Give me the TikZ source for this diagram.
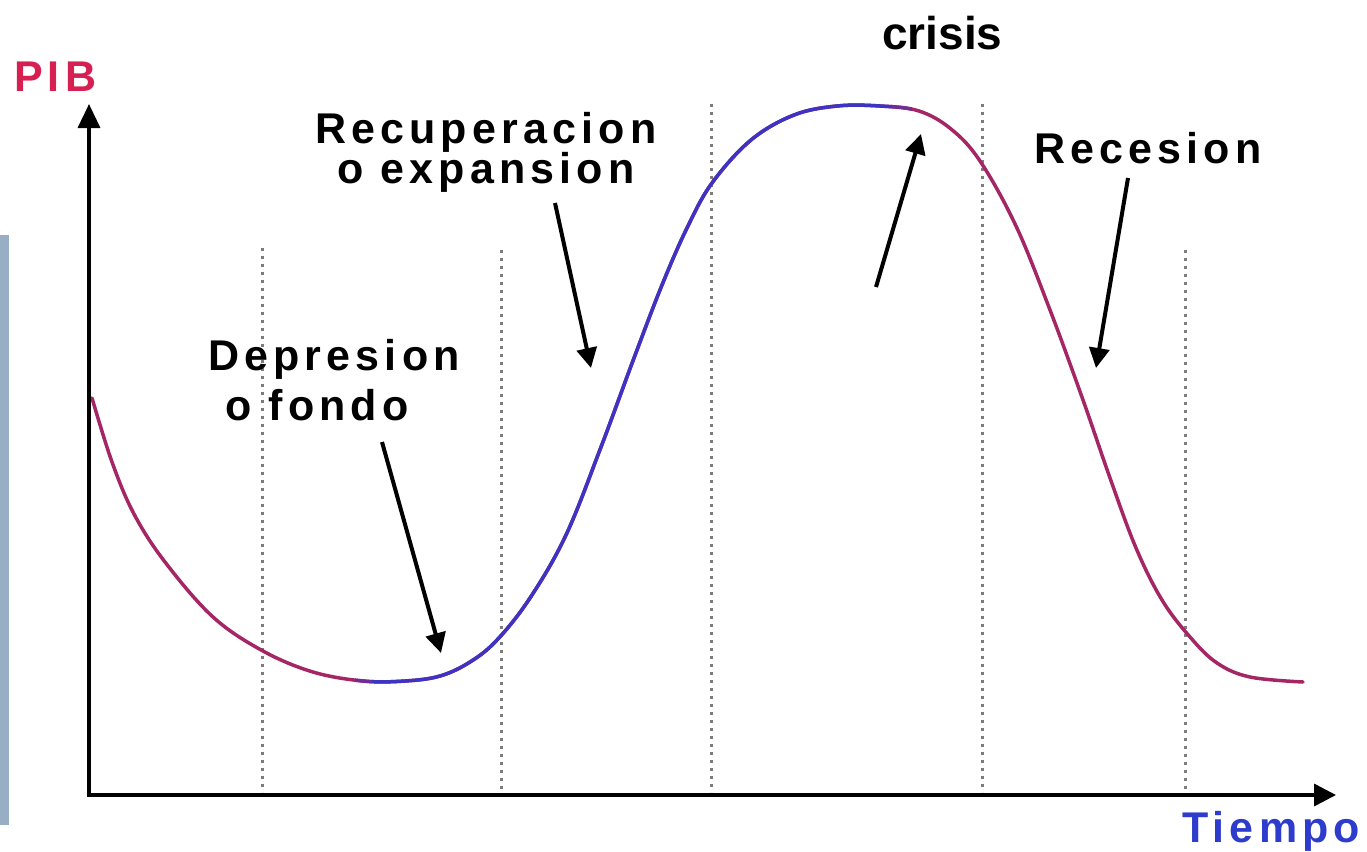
\documentclass[tikz,border=0pt]{standalone}
\usepackage{fontspec}
\setmainfont{Liberation Sans}
\newfontfamily\lblfont[LetterSpace=12,BoldFont={Liberation Sans Bold}]{Liberation Sans}
\newfontfamily\plainbold{Liberation Sans Bold}
\usetikzlibrary{arrows.meta}
\definecolor{pibred}{RGB}{214,32,82}
\definecolor{tblue}{RGB}{45,60,205}
\definecolor{curvered}{RGB}{165,38,100}
\definecolor{curveblue}{RGB}{62,52,196}
\definecolor{curvemix}{RGB}{112,45,150}
\definecolor{barcol}{RGB}{152,174,197}
\definecolor{gridgray}{RGB}{125,125,125}
\tikzset{
  lbl/.style={font=\lblfont\bfseries\fontsize{43}{50}\selectfont, inner sep=0pt, anchor=base west, text=black},
  crisislbl/.style={font=\plainbold\fontsize{46}{54}\selectfont, inner sep=0pt, anchor=base west, text=black},
  axisline/.style={line width=3.5pt, black, line join=miter, {Triangle[length=24pt,width=22pt]}-{Triangle[length=22pt,width=22pt]}},
  vgrid/.style={line width=3pt, gridgray, dash pattern=on 3pt off 5pt},
  pointer/.style={line width=4pt, black, -{Triangle[length=20pt,width=20pt]}},
  curvestyle/.style={line width=3.5pt, line cap=round, line join=round}
}
\newcommand{\cycpath}{plot[smooth, tension=0.6] coordinates {
 (92,398) (112,462) (134,514) (165,562) (213,617) (263,651) (313,672)
 (363,681) (405,681) (440,676) (470,662) (497,640) (530,598) (566,535)
 (601,447) (634,358) (662,285) (687,228) (712,183) (751,140) (794,115)
 (837,106) (880,106) (919,111) (951,129) (980,161) (1016,226) (1050,310)
 (1083,400) (1110,478) (1136,548) (1162,600) (1190,637) (1217,663)
 (1250,677) (1303,682)}}
\begin{document}
\begin{tikzpicture}[x=1pt,y=-1pt]
\useasboundingbox (0,0) rectangle (1367,851);
% left side bar
\fill[barcol] (0,235) rectangle (9,825);
% dotted phase separators
\draw[vgrid] (262,248) -- (262,792);
\draw[vgrid] (501,250) -- (501,792);
\draw[vgrid] (711,104) -- (711,792);
\draw[vgrid] (982,104) -- (982,792);
\draw[vgrid] (1185,250) -- (1185,792);
% curve
\draw[curvestyle, curvered] \cycpath;
\begin{scope}
  \clip (355,0) rectangle (372,851);
  \draw[curvestyle, curvemix] \cycpath;
\end{scope}
\begin{scope}
  \clip (372,0) rectangle (892,851);
  \draw[curvestyle, curveblue] \cycpath;
\end{scope}
\begin{scope}
  \clip (892,0) rectangle (912,851);
  \draw[curvestyle, curvemix] \cycpath;
\end{scope}
% axes
\coordinate (O) at (89,795);
\coordinate (ytip) at (89,104);
\coordinate (xtip) at (1336,795);
\draw[axisline] (ytip) -- (O) -- (xtip);
% labels
\node[lbl, text=pibred] (pib) at (14,92) {PIB};
\node[lbl, text=tblue] (tiempo) at (1182,842) {Tiempo};
\node[crisislbl] (crisis) at (882,50) {crisis};
\node[lbl] (rec1) at (315,143) {Recuperacion};
\node[lbl] (rec2) at (337,183) {o expansion};
\node[lbl] (dep1) at (208,370) {Depresion};
\node[lbl] (dep2) at (225,420) {o fondo};
\node[lbl] (reces) at (1034,163) {Recesion};
% pointers
\coordinate (a1s) at (382,442); \coordinate (a1e) at (441,653);
\coordinate (a2s) at (555,203); \coordinate (a2e) at (591,368);
\coordinate (a3s) at (876,287); \coordinate (a3e) at (921,134);
\coordinate (a4s) at (1128,178); \coordinate (a4e) at (1096,368);
\draw[pointer] (a1s) -- (a1e);
\draw[pointer] (a2s) -- (a2e);
\draw[pointer] (a3s) -- (a3e);
\draw[pointer] (a4s) -- (a4e);
\end{tikzpicture}
\end{document}
